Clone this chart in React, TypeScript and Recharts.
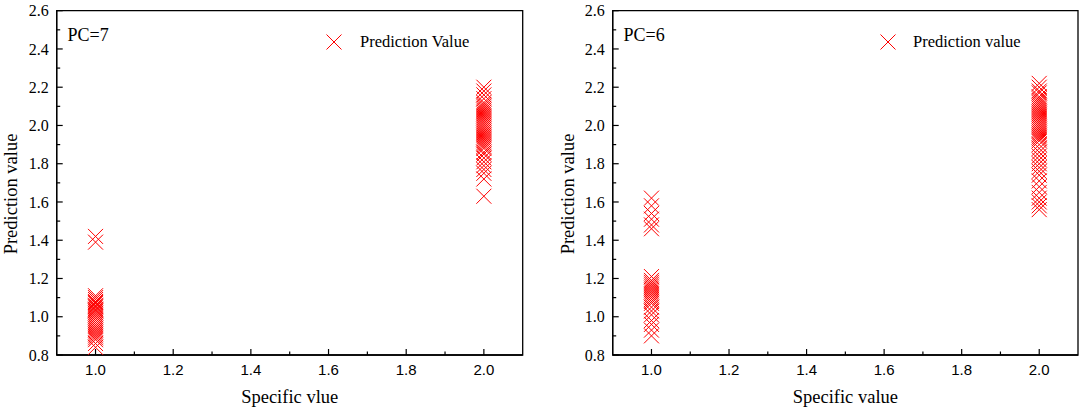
import React from 'react';
import { ScatterChart, Scatter, XAxis, YAxis, ReferenceArea, Legend } from 'recharts';

// Specific values on the x axis
const specificValues = [1.0, 2.0];

// PC=7 predictions, grouped by specific value
const pc7AtOne = [1.42, 1.39, 1.11, 1.1, 1.09, 1.08, 1.075, 1.07, 1.06, 1.055, 1.05, 1.04, 1.035, 1.03, 1.02, 1.01, 1.0, 0.99, 0.98, 0.97, 0.96, 0.95, 0.94, 0.93, 0.92, 0.91, 0.9, 0.89, 0.88, 0.86, 0.84];
const pc7AtTwo = [2.2, 2.18, 2.16, 2.14, 2.12, 2.11, 2.1, 2.09, 2.08, 2.07, 2.06, 2.05, 2.04, 2.03, 2.02, 2.01, 2.0, 1.99, 1.98, 1.97, 1.96, 1.95, 1.94, 1.93, 1.92, 1.91, 1.9, 1.89, 1.88, 1.86, 1.85, 1.83, 1.81, 1.79, 1.77, 1.75, 1.72, 1.63];

// PC=6 predictions, grouped by specific value
const pc6AtOne = [1.62, 1.58, 1.54, 1.51, 1.48, 1.46, 1.21, 1.19, 1.18, 1.17, 1.16, 1.15, 1.14, 1.13, 1.12, 1.11, 1.1, 1.09, 1.08, 1.07, 1.05, 1.03, 1.01, 0.98, 0.96, 0.93, 0.9];
const pc6AtTwo = [2.22, 2.2, 2.18, 2.17, 2.15, 2.14, 2.13, 2.12, 2.11, 2.1, 2.09, 2.08, 2.07, 2.06, 2.05, 2.04, 2.03, 2.02, 2.01, 2.0, 1.99, 1.98, 1.97, 1.96, 1.95, 1.94, 1.93, 1.92, 1.9, 1.88, 1.86, 1.84, 1.82, 1.8, 1.78, 1.76, 1.74, 1.71, 1.68, 1.65, 1.62, 1.6, 1.58, 1.56];

// axis ticks (every 0.1, labels on every 0.2)
const xTicks = [1.0, 1.1, 1.2, 1.3, 1.4, 1.5, 1.6, 1.7, 1.8, 1.9, 2.0];
const yTicks = [0.8, 0.9, 1.0, 1.1, 1.2, 1.3, 1.4, 1.5, 1.6, 1.7, 1.8, 1.9, 2.0, 2.1, 2.2, 2.3, 2.4, 2.5, 2.6];

const SERIF = '"Times New Roman", "Liberation Serif", serif';
const SANS = 'Arial, "Liberation Sans", sans-serif';
const RED = '#ff0000';

const toPoints = (groups: number[][]) =>
  groups.flatMap((vals, i) => vals.map((y) => ({ x: specificValues[i], y })));

const isMajor = (v: number) => Math.round(v * 10) % 2 === 0;

const XMark = (props: any) => {
  const { cx, cy } = props;
  const s = 7.5;
  return (
    <path
      d={`M${cx - s},${cy - s}L${cx + s},${cy + s}M${cx - s},${cy + s}L${cx + s},${cy - s}`}
      stroke={RED}
      strokeWidth={1}
      fill="none"
    />
  );
};

const YTick = (props: any) => {
  const { x, y, payload } = props;
  const major = isMajor(payload.value);
  return (
    <g>
      <line x1={x} x2={x + (major ? 6 : 3.5)} y1={y} y2={y} stroke="#000" strokeWidth={1.2} />
      {major && (
        <text x={x - 8} y={y} dy="0.35em" textAnchor="end" fontFamily={SERIF} fontSize={16} fill="#000">
          {payload.value.toFixed(1)}
        </text>
      )}
    </g>
  );
};

const XTick = (props: any) => {
  const { x, y, payload } = props;
  const major = isMajor(payload.value);
  return (
    <g>
      <line x1={x} x2={x} y1={y} y2={y - (major ? 6 : 3.5)} stroke="#000" strokeWidth={1.2} />
      {major && (
        <text x={x} y={y + 15} dy="0.35em" textAnchor="middle" fontFamily={SANS} fontSize={15} fill="#000">
          {payload.value.toFixed(1)}
        </text>
      )}
    </g>
  );
};

type PanelProps = {
  data: { x: number; y: number }[];
  width: number;
  yAxisWidth: number;
  rightMargin: number;
  pcLabel: string;
  seriesName: string;
  xTitle: string;
  yTitleX: number;
  legendLeft: number;
  legendGap: number;
};

const Panel = ({ data, width, yAxisWidth, rightMargin, pcLabel, seriesName, xTitle, yTitleX, legendLeft, legendGap }: PanelProps) => {
  const plotLeft = yAxisWidth;
  const plotRight = width - rightMargin;
  return (
    <div style={{ position: 'relative', width, height: 412 }}>
      <ScatterChart width={width} height={412} margin={{ top: 10.7, right: rightMargin, bottom: 0, left: 0 }}>
        <XAxis
          type="number"
          dataKey="x"
          domain={[0.9, 2.1]}
          ticks={xTicks}
          interval={0}
          allowDataOverflow
          height={57}
          tickSize={0}
          tickMargin={0}
          tick={<XTick />}
          axisLine={{ stroke: '#000', strokeWidth: 1.3 }}
          label={() => (
            <text x={(plotLeft + plotRight) / 2} y={397} dy="0.35em" textAnchor="middle" fontFamily={SERIF} fontSize={18.5} fill="#000">
              {xTitle}
            </text>
          )}
        />
        <YAxis
          type="number"
          dataKey="y"
          domain={[0.8, 2.6]}
          ticks={yTicks}
          interval={0}
          allowDataOverflow
          width={yAxisWidth}
          tickSize={0}
          tickMargin={0}
          tick={<YTick />}
          axisLine={{ stroke: '#000', strokeWidth: 1.3 }}
          label={() => (
            <text
              x={yTitleX}
              y={194}
              dy="0.35em"
              textAnchor="middle"
              transform={`rotate(-90, ${yTitleX}, 194)`}
              fontFamily={SERIF}
              fontSize={18.5}
              fill="#000"
            >
              Prediction value
            </text>
          )}
        />
        <ReferenceArea x1={0.9} x2={2.1} y1={0.8} y2={2.6} fill="none" stroke="#000" strokeWidth={1.3} ifOverflow="visible" />
        <Legend
          layout="vertical"
          align="center"
          verticalAlign="middle"
          wrapperStyle={{ left: legendLeft, top: 33.7, width: 'auto', height: 16 }}
          content={(p: any) => (
            <div style={{ display: 'flex', alignItems: 'center', height: 16 }}>
              <svg width={16} height={16}>
                <path d="M0.5,0.5L15.5,15.5M0.5,15.5L15.5,0.5" stroke={RED} strokeWidth={1} />
              </svg>
              <span style={{ marginLeft: legendGap, fontFamily: SERIF, fontSize: 16.5, lineHeight: '16px', color: '#000' }}>
                {p.payload && p.payload[0] ? p.payload[0].value : seriesName}
              </span>
            </div>
          )}
        />
        <Scatter name={seriesName} data={data} fill={RED} shape={<XMark />} isAnimationActive={false} legendType="cross" />
      </ScatterChart>
      <div
        style={{
          position: 'absolute',
          left: plotLeft + 10.8,
          top: 24,
          fontFamily: SERIF,
          fontSize: 18,
          lineHeight: '22px',
          color: '#000',
        }}
      >
        {pcLabel}
      </div>
    </div>
  );
};

const App: React.FC = () => {
  return (
    <div style={{ position: 'absolute', left: 0, top: 0, width: 1084, height: 412, background: '#fff' }}>
      <div style={{ position: 'absolute', left: 0, top: 0 }}>
        <Panel
          data={toPoints([pc7AtOne, pc7AtTwo])}
          width={540}
          yAxisWidth={56.7}
          rightMargin={17.3}
          pcLabel="PC=7"
          seriesName="Prediction Value"
          xTitle="Specific vlue"
          yTitleX={11}
          legendLeft={326}
          legendGap={18}
        />
      </div>
      <div style={{ position: 'absolute', left: 540, top: 0 }}>
        <Panel
          data={toPoints([pc6AtOne, pc6AtTwo])}
          width={544}
          yAxisWidth={72.7}
          rightMargin={6}
          pcLabel="PC=6"
          seriesName="Prediction value"
          xTitle="Specific value"
          yTitleX={28}
          legendLeft={340}
          legendGap={17}
        />
      </div>
    </div>
  );
};

export default App;
